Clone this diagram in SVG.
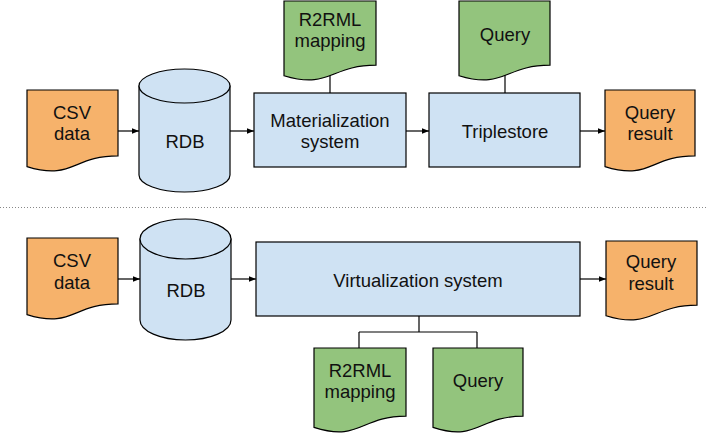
<svg xmlns="http://www.w3.org/2000/svg" width="707" height="435" viewBox="0 0 707 435">
<defs>
<marker id="arr" viewBox="0 0 10 10" refX="10" refY="5" markerWidth="7" markerHeight="7" markerUnits="userSpaceOnUse" orient="auto">
<path d="M0,1 L10,5 L0,9 Z" fill="#000"/>
</marker>
<style>
.doc-o{fill:#f6b26b;stroke:#000;stroke-width:1.2}
.doc-g{fill:#93c47d;stroke:#000;stroke-width:1.2}
.blue{fill:#cfe2f3;stroke:#000;stroke-width:1.2}
.t{font-family:"Liberation Sans",Arial,sans-serif;font-size:18.5px;fill:#111;text-anchor:middle}
.c{fill:none;stroke:#000;stroke-width:1.2}
.a{fill:none;stroke:#000;stroke-width:1.2;marker-end:url(#arr)}
</style>
</defs>
<rect width="707" height="435" fill="#fff"/>
<line x1="0" y1="207.5" x2="707" y2="207.5" stroke="#888" stroke-width="1" stroke-dasharray="1,2"/>
<g id="connectors">
<line class="a" x1="118" y1="131" x2="139" y2="131"/>
<line class="a" x1="230" y1="131" x2="254" y2="131"/>
<line class="a" x1="406" y1="131" x2="429" y2="131"/>
<line class="a" x1="580" y1="131" x2="605" y2="131"/>
<line class="c" x1="330" y1="74" x2="330" y2="93"/>
<line class="c" x1="505" y1="74" x2="505" y2="93"/>
<line class="a" x1="118" y1="279" x2="140" y2="279"/>
<line class="a" x1="231" y1="279" x2="256" y2="279"/>
<line class="a" x1="580" y1="279" x2="606" y2="279"/>
<path class="c" d="M419,316 V332 M359,332 H477 M359,332 V348 M477,332 V348"/>
</g>
<g id="csv1">
<path class="doc-o" d="M27,90 H118 V155.8 C72.5,155.8 72.5,180.8 27,166.6 Z"/>
<text class="t" x="72" y="119">CSV</text>
<text class="t" x="72" y="140">data</text>
</g>
<g id="rdb1">
<path class="blue" d="M139,86 V175 A45.5,17 0 0 0 230,175 V86 Z"/>
<ellipse class="blue" cx="184.5" cy="86" rx="45.5" ry="17"/>
<text class="t" x="185" y="148">RDB</text>
</g>
<g id="mat">
<rect class="blue" x="254" y="93" width="152" height="74"/>
<text class="t" x="330" y="127">Materialization</text>
<text class="t" x="330" y="148">system</text>
</g>
<g id="r2rml1">
<path class="doc-g" d="M284,1 H376 V65.2 C330,65.2 330,89.6 284,75.7 Z"/>
<text class="t" x="330" y="26">R2RML</text>
<text class="t" x="330" y="47">mapping</text>
</g>
<g id="triple">
<rect class="blue" x="429" y="93" width="151" height="74"/>
<text class="t" x="505" y="138">Triplestore</text>
</g>
<g id="query1">
<path class="doc-g" d="M459,1 H550 V65.2 C504.5,65.2 504.5,89.6 459,75.7 Z"/>
<text class="t" x="505" y="41">Query</text>
</g>
<g id="result1">
<path class="doc-o" d="M605,90 H695 V155.8 C650,155.8 650,180.8 605,166.6 Z"/>
<text class="t" x="650" y="119">Query</text>
<text class="t" x="650" y="140">result</text>
</g>
<g id="csv2">
<path class="doc-o" d="M27,238 H118 V303.8 C72.5,303.8 72.5,328.8 27,314.6 Z"/>
<text class="t" x="72" y="267">CSV</text>
<text class="t" x="72" y="289">data</text>
</g>
<g id="rdb2">
<path class="blue" d="M140,239 V320 A45.5,20 0 0 0 231,320 V239 Z"/>
<ellipse class="blue" cx="185.5" cy="239" rx="45.5" ry="20"/>
<text class="t" x="186" y="297">RDB</text>
</g>
<g id="virt">
<rect class="blue" x="256" y="242" width="324" height="74"/>
<text class="t" x="418" y="287">Virtualization system</text>
</g>
<g id="result2">
<path class="doc-o" d="M606,241 H697 V305.2 C651.5,305.2 651.5,329.6 606,315.7 Z"/>
<text class="t" x="651" y="268">Query</text>
<text class="t" x="651" y="290">result</text>
</g>
<g id="r2rml2">
<path class="doc-g" d="M314,348 H406 V416.2 C360,416.2 360,442.1 314,427.4 Z"/>
<text class="t" x="360" y="377">R2RML</text>
<text class="t" x="360" y="398">mapping</text>
</g>
<g id="query2">
<path class="doc-g" d="M433,348 H523 V416.2 C478,416.2 478,442.1 433,427.4 Z"/>
<text class="t" x="478" y="387">Query</text>
</g>
</svg>
